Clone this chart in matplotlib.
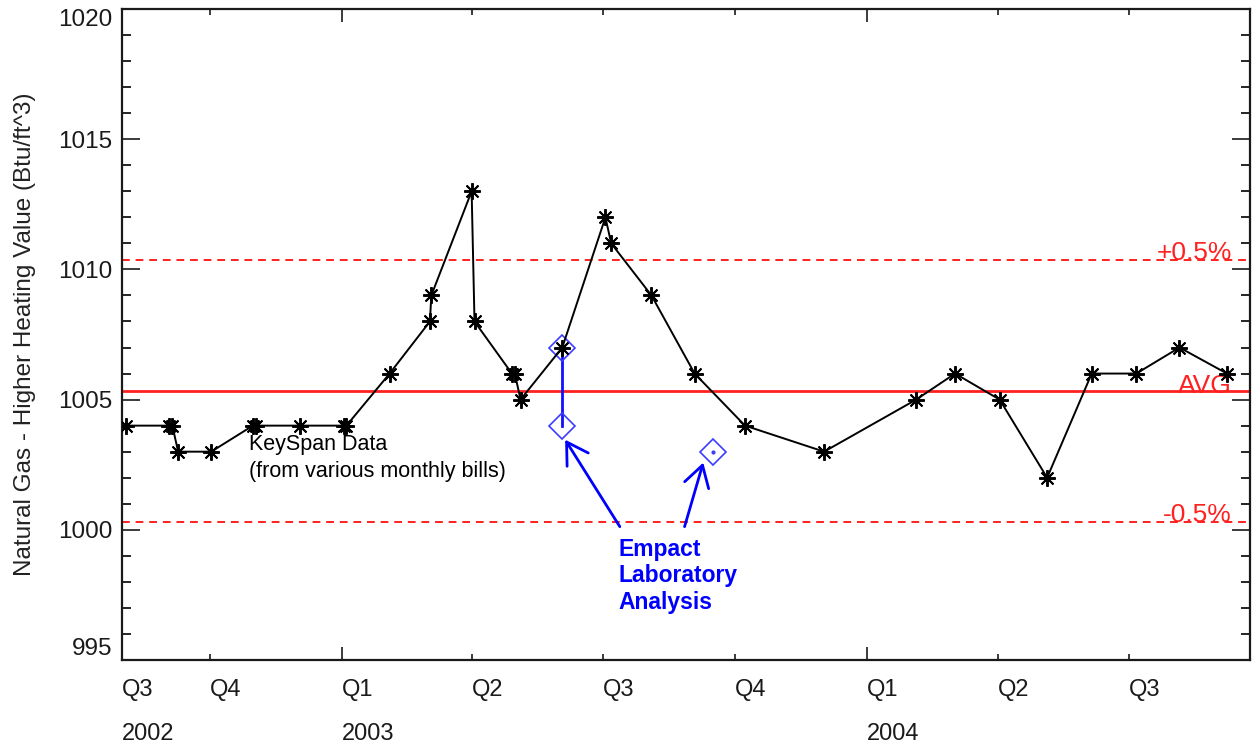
import matplotlib
matplotlib.use('Agg')
import matplotlib.pyplot as plt
import matplotlib.dates as mdates
from matplotlib.transforms import blended_transform_factory
import numpy as np

plt.rcParams['font.family'] = ['Liberation Sans', 'DejaVu Sans']

# KeySpan heating value readings taken from the monthly bills
keyspan_dates = ['2002-08-04', '2002-09-03', '2002-09-05', '2002-09-09', '2002-10-02',
                 '2002-10-31', '2002-11-02', '2002-12-03', '2003-01-02', '2003-01-04',
                 '2003-02-03', '2003-03-03', '2003-03-04', '2003-04-01', '2003-04-03',
                 '2003-04-29', '2003-05-01', '2003-05-05', '2003-06-03', '2003-07-03',
                 '2003-07-07', '2003-08-04', '2003-09-03', '2003-10-08', '2003-12-02',
                 '2004-02-04', '2004-03-02', '2004-04-02', '2004-05-05', '2004-06-05',
                 '2004-07-06', '2004-08-05', '2004-09-07']
keyspan_hhv = [1004, 1004, 1004, 1003, 1003,
               1004, 1004, 1004, 1004, 1004,
               1006, 1008, 1009, 1013, 1008,
               1006, 1006, 1005, 1007, 1012,
               1011, 1009, 1006, 1004, 1003,
               1005, 1006, 1005, 1002, 1006,
               1006, 1007, 1006]

# Empact lab samples (the June pair is joined by a line)
lab_pair_dates = ['2003-06-03', '2003-06-03']
lab_pair_hhv = [1007, 1004]
lab_single_date = ['2003-09-16']
lab_single_hhv = [1003]

avg_hhv = 1005.33
band_pct = 0.5

quarter_ticks = ['2002-08-01', '2002-10-01', '2003-04-01', '2003-07-01',
                 '2003-10-01', '2004-04-01', '2004-07-01']
quarter_labels = ['Q3', 'Q4', 'Q2', 'Q3', 'Q4', 'Q2', 'Q3']
year_ticks = ['2003-01-01', '2004-01-01']
year_ticks_labels = ['Q1', 'Q1']
year_text_dates = ['2002-08-01', '2003-01-01', '2004-01-01']
year_text = ['2002', '2003', '2004']

x_start, x_end = '2002-08-01', '2004-09-23'


def d(s):
    return mdates.date2num(np.datetime64(s))


kd = [d(s) for s in keyspan_dates]

fig = plt.figure(figsize=(12.54, 7.51), dpi=100)
ax = fig.add_axes([0.0973, 0.1212, 0.8995, 0.8668])

red = '#ff2020'
blue_mk = '#3c3cff'
ink = '#1a1a1a'

# average and +/- band
upper = avg_hhv * (1 + band_pct / 100)
lower = avg_hhv * (1 - band_pct / 100)
ax.axhline(avg_hhv, color=red, lw=2, zorder=1)
ax.axhline(upper, color=red, lw=1.4, ls=(0, (4, 3)), zorder=1)
ax.axhline(lower, color=red, lw=1.4, ls=(0, (4, 3)), zorder=1)

trans = blended_transform_factory(ax.transAxes, ax.transData)
ax.text(0.984, upper, '+0.5%', color=red, fontsize=19, ha='right', va='baseline', transform=trans)
ax.text(0.984, avg_hhv - 0.08, 'AVG', color=red, fontsize=19, ha='right', va='baseline', transform=trans)
ax.text(0.984, lower, '-0.5%', color=red, fontsize=19, ha='right', va='baseline', transform=trans)

# lab analyses
ax.plot([d(s) for s in lab_pair_dates], lab_pair_hhv, color='#1010ff', lw=2, zorder=2)
ax.plot([d(s) for s in lab_pair_dates], lab_pair_hhv, ls='none', marker='D', ms=13,
        mfc='none', mec=blue_mk, mew=1.2, zorder=3)
ax.plot([d(s) for s in lab_single_date], lab_single_hhv, ls='none', marker='D', ms=13,
        mfc='none', mec=blue_mk, mew=1.2, zorder=3)
ax.plot([d(s) for s in lab_single_date], lab_single_hhv, ls='none', marker='o', ms=2,
        color=blue_mk, zorder=3)

# KeySpan series
ax.plot(kd, keyspan_hhv, color='black', lw=1.4, marker=(8, 2, 0), ms=12, mew=1.4,
        mec='black', zorder=4)

ax.text(d('2002-10-28'), 1003.66, 'KeySpan Data\n(from various monthly bills)',
        fontsize=15.5, color='black', ha='left', va='top', linespacing=1.35)

ax.text(d('2003-07-12'), 999.70, 'Empact\nLaboratory\nAnalysis', fontsize=16.5,
        fontweight='bold', color='#0000ff', ha='left', va='top', linespacing=1.2)
arrow = dict(arrowstyle='->,head_length=0.75,head_width=0.45', color='#0000ff',
             lw=2, mutation_scale=20, shrinkA=0, shrinkB=0)
ax.annotate('', xy=(d('2003-06-05'), 1003.46), xytext=(d('2003-07-13'), 1000.12),
            arrowprops=arrow)
ax.annotate('', xy=(d('2003-09-09'), 1002.58), xytext=(d('2003-08-27'), 1000.12),
            arrowprops=arrow)

# axes
ax.set_xlim(d(x_start), d(x_end))
ax.set_ylim(995, 1020)

ax.set_xticks([d(s) for s in year_ticks], year_ticks_labels)
ax.set_xticks([d(s) for s in quarter_ticks], quarter_labels, minor=True)
ax.tick_params(axis='x', which='major', direction='in', length=9.5, width=1.2,
               top=True, pad=13.5, labelsize=17, colors=ink)
ax.tick_params(axis='x', which='minor', direction='in', length=4.5, width=1.2,
               top=True, pad=13.5, labelsize=17, colors=ink)
for lbl in ax.get_xticklabels(which='both'):
    lbl.set_ha('left')

for s, y in zip(year_text_dates, year_text):
    ax.annotate(y, xy=(d(s), 0), xycoords=('data', 'axes fraction'),
                xytext=(0, -53.5), textcoords='offset points',
                ha='left', va='center', fontsize=17, color=ink)

ax.set_yticks(np.arange(995, 1021, 5))
ax.set_yticks(np.arange(995, 1021, 1), minor=True)
ax.tick_params(axis='y', which='major', direction='in', length=13, width=1.2,
               right=True, pad=7, labelsize=17.5, colors=ink)
ax.tick_params(axis='y', which='minor', direction='in', length=6.5, width=1.2,
               right=True)
ylbls = ax.get_yticklabels()
ylbls[0].set_va('bottom')
ylbls[-1].set_va('top')

for sp in ax.spines.values():
    sp.set_linewidth(1.6)
    sp.set_color(ink)

ax.set_ylabel('Natural Gas - Higher Heating Value (Btu/ft^3)', fontsize=17.5,
              color='#222222', labelpad=16)

fig.savefig('out.png', dpi=100)
